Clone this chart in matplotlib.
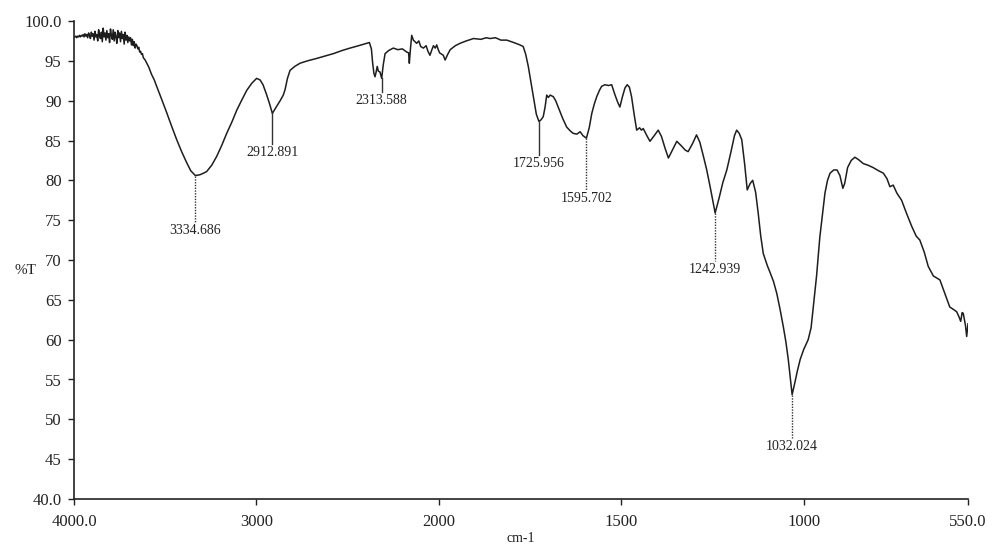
import numpy as np
import matplotlib.pyplot as plt

plt.rcParams['font.family'] = ['Liberation Serif', 'DejaVu Serif']

# FTIR spectrum, wavenumber (cm-1) vs transmittance (%T)
wavenumber = [
    3995, 3990, 3985, 3980, 3975, 3970, 3965, 3960, 3955, 3950,
    3945, 3940, 3935, 3930, 3925, 3920, 3915, 3910, 3905, 3900,
    3895, 3890, 3885, 3880, 3875, 3870, 3865, 3860, 3855, 3850,
    3845, 3840, 3835, 3830, 3825, 3820, 3815, 3810, 3805, 3800,
    3795, 3790, 3785, 3780, 3775, 3770, 3765, 3760, 3755, 3750,
    3745, 3740, 3735, 3730, 3725, 3720, 3715, 3710, 3705, 3700,
    3695, 3690, 3685, 3680, 3675, 3670, 3665, 3660, 3655, 3650,
    3645, 3640, 3635, 3630, 3625, 3620, 3610, 3601,
    3590, 3575, 3560, 3547, 3520, 3492, 3465, 3437, 3410, 3382,
    3360, 3334.686, 3310, 3290, 3273, 3245, 3218, 3190, 3163, 3135,
    3108, 3080, 3053, 3025, 2999, 2980, 2964, 2945, 2928, 2912.891,
    2900, 2889, 2870, 2853, 2843, 2830, 2816, 2790, 2761, 2720,
    2670, 2625, 2579, 2530, 2487, 2440, 2396, 2381, 2370, 2363,
    2356, 2350, 2344, 2338, 2332, 2323, 2313.588, 2305, 2295, 2275,
    2250, 2225, 2200, 2176, 2166, 2162, 2156, 2149, 2140, 2122,
    2110, 2100, 2085, 2070, 2060, 2049, 2040, 2030, 2020, 2012,
    2005, 1998, 1988, 1983, 1976, 1969, 1955, 1942, 1925, 1905,
    1885, 1870, 1860, 1845, 1830, 1814, 1795, 1778, 1769, 1762,
    1755, 1748, 1741, 1733, 1725.956, 1720, 1714, 1709, 1704.5, 1700,
    1695, 1686.5, 1680, 1673, 1661, 1650, 1640, 1632, 1622, 1613,
    1605, 1595.702, 1588, 1581, 1574, 1567.5, 1560, 1554, 1545, 1535,
    1526.5, 1518, 1510, 1504, 1497, 1490, 1484, 1478, 1472, 1465,
    1458, 1450, 1445, 1440, 1430, 1421.5, 1410, 1399, 1390, 1380,
    1371, 1360, 1348, 1335, 1325, 1317, 1305, 1294, 1285, 1275,
    1266, 1255, 1242.939, 1232, 1222, 1211, 1200, 1190, 1184, 1177,
    1170, 1162, 1155, 1147, 1140, 1132, 1125, 1118, 1111, 1100,
    1093, 1083, 1074, 1065, 1056, 1049, 1042.5, 1037, 1032.024, 1025,
    1018, 1010, 1000, 988, 980, 974, 965, 956, 948, 942,
    935, 928, 918, 909, 901, 893, 888, 880, 870, 860,
    850, 837, 824, 810, 795, 782, 772, 764, 755, 745,
    732, 718, 704, 692, 682, 670, 659, 645, 627, 615,
    600, 590, 581, 575, 570, 566, 563, 557, 553.6, 550,
]
transmittance = [
    98.0, 98.1, 97.9, 98.1, 98.0, 98.2, 98.0, 98.2, 98.1, 98.3,
    98.0, 98.4, 98.1, 98.3, 97.9, 98.5, 98.2, 97.8, 98.6, 98.1,
    98.4, 97.6, 98.7, 98.0, 98.3, 97.5, 98.9, 98.1, 97.8, 98.6,
    97.4, 99.1, 98.0, 98.5, 97.6, 98.8, 97.9, 98.4, 97.3, 99.0,
    98.2, 97.7, 98.9, 97.5, 98.6, 98.0, 97.2, 98.8, 97.9, 98.5,
    97.4, 98.7, 97.8, 98.3, 97.1, 98.6, 97.6, 98.2, 97.3, 98.0,
    97.5, 97.9, 97.0, 97.7, 96.9, 97.4, 96.6, 97.1, 96.9, 96.5,
    96.7, 96.1, 96.2, 95.8, 95.9, 95.4, 95.1, 94.7,
    94.2, 93.3, 92.6, 91.8, 90.2, 88.5, 86.8, 85.1, 83.6, 82.2,
    81.2, 80.6, 80.7, 80.9, 81.1, 81.9, 83.0, 84.4, 85.9, 87.3,
    88.8, 90.1, 91.3, 92.2, 92.8, 92.6, 92.0, 90.8, 89.6, 88.4,
    88.9, 89.3, 90.0, 90.7, 91.4, 92.8, 93.8, 94.3, 94.7, 95.0,
    95.3, 95.6, 95.9, 96.3, 96.6, 96.9, 97.2, 97.3, 96.5, 94.7,
    93.4, 93.0, 93.6, 94.3, 93.7, 93.6, 92.8, 94.5, 95.9, 96.3,
    96.6, 96.4, 96.5, 96.1, 96.0, 94.7, 96.5, 98.2, 97.6, 97.2,
    97.5, 96.8, 96.6, 96.9, 96.2, 95.7, 96.3, 96.9, 96.6, 97.0,
    96.5, 96.0, 95.7, 95.1, 95.8, 96.4, 96.9, 97.2, 97.5, 97.8,
    97.7, 97.9, 97.8, 97.9, 97.6, 97.6, 97.3, 97.0, 96.8, 95.8,
    94.3, 92.4, 90.5, 88.3, 87.4, 87.6, 88.0, 89.2, 90.7, 90.4,
    90.7, 90.5, 90.0, 89.2, 87.8, 86.7, 86.2, 85.9, 85.8, 86.1,
    85.6, 85.3, 86.6, 88.4, 89.6, 90.5, 91.3, 91.8, 92.0, 91.9,
    92.0, 90.8, 89.8, 89.2, 90.5, 91.6, 92.0, 91.7, 90.5, 88.3,
    86.3, 86.6, 86.3, 86.5, 85.6, 84.9, 85.6, 86.3, 85.5, 84.0,
    82.8, 83.8, 84.9, 84.3, 83.8, 83.6, 84.6, 85.7, 84.8, 83.0,
    81.3, 78.8, 75.9, 77.8, 79.7, 81.3, 83.5, 85.6, 86.3, 85.9,
    85.1, 82.0, 78.8, 79.6, 80.0, 78.5, 75.9, 73.0, 70.8, 69.3,
    68.5, 67.3, 65.8, 63.8, 61.6, 59.7, 57.5, 55.2, 53.1, 54.5,
    56.0, 57.5, 58.8, 60.0, 61.5, 64.1, 68.0, 72.9, 76.0, 78.4,
    80.0, 80.9, 81.3, 81.3, 80.6, 79.0, 79.6, 81.6, 82.5, 82.9,
    82.6, 82.1, 81.9, 81.6, 81.2, 80.9, 80.2, 79.2, 79.4, 78.4,
    77.5, 75.8, 74.2, 73.0, 72.5, 71.0, 69.2, 68.0, 67.5, 66.0,
    64.1, 63.8, 63.5, 62.9, 62.3, 63.4, 63.3, 61.8, 60.4, 62.0,
]

# labelled bands: position, band minimum, end of leader line, leader style
peak_wn = [3334.686, 2912.891, 2313.588, 1725.956, 1595.702, 1242.939, 1032.024]
peak_t = [80.6, 88.4, 92.8, 87.4, 85.3, 75.9, 53.1]
leader_end = [74.8, 84.6, 91.1, 83.2, 78.8, 69.9, 47.7]
leader_dotted = [True, False, False, False, True, True, True]

xticks = [4000, 3000, 2000, 1500, 1000, 550]
xticklabels = ['4000.0', '3000', '2000', '1500', '1000', '550.0']
yticks = [100, 95, 90, 85, 80, 75, 70, 65, 60, 55, 50, 45, 40]
yticklabels = ['100.0', '95', '90', '85', '80', '75', '70', '65', '60',
               '55', '50', '45', '40.0']


# x axis is expanded two-fold below 2000 cm-1
def fwd(x):
    x = np.asarray(x, dtype=float)
    return np.where(x >= 2000, x, 2000 + 2 * (x - 2000))


def inv(u):
    u = np.asarray(u, dtype=float)
    return np.where(u >= 2000, u, 2000 + (u - 2000) / 2)


fig = plt.figure(figsize=(9.93, 5.47), dpi=100)
ax = fig.add_axes([74 / 993, 48 / 547, 894 / 993, 478 / 547])

ax.plot(wavenumber, transmittance, color='#1e1e1e', lw=1.1)

for wn, t0, t1, dot in zip(peak_wn, peak_t, leader_end, leader_dotted):
    ax.plot([wn, wn], [t0, t1], color='#333333', lw=1.0,
            ls=(0, (1, 1)) if dot else '-')
    ax.text(wn, t1 - 0.3, f'{wn:.3f}', ha='center', va='top',
            fontsize=10, color='#222222')

ax.set_xscale('function', functions=(fwd, inv))
ax.set_xlim(4000, 550)
ax.set_ylim(40, 100)
ax.set_xticks(xticks, xticklabels)
ax.set_yticks(yticks, yticklabels)
ax.minorticks_off()

for side in ['top', 'right']:
    ax.spines[side].set_visible(False)
for side in ['left', 'bottom']:
    ax.spines[side].set_linewidth(1.2)
    ax.spines[side].set_color('#222222')

ax.tick_params(axis='both', direction='out', length=4, width=1.0,
               colors='#222222', labelsize=12)
ax.tick_params(axis='x', pad=7)
ax.tick_params(axis='y', pad=5)

ax.set_xlabel('cm-1', fontsize=10, labelpad=1, color='#222222')
fig.text(25 / 993, 1 - 270 / 547, '%T', ha='center', va='center',
         fontsize=11, color='#222222')

fig.savefig('out.png', dpi=100)
